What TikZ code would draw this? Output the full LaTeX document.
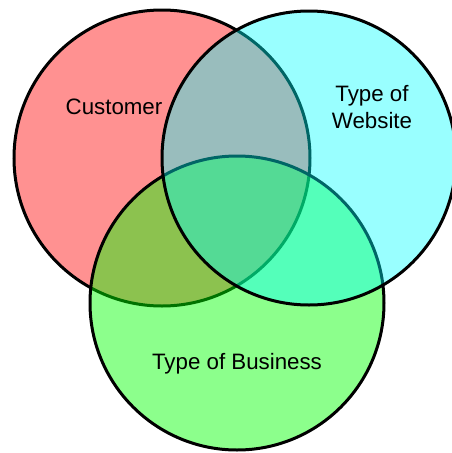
\documentclass[tikz,border=0pt]{standalone}
\usepackage{fontspec}
\setmainfont{Liberation Sans}
\definecolor{redfill}{RGB}{255,145,145}
\definecolor{greenfill}{RGB}{0,255,0}
\definecolor{cyanfill}{RGB}{0,255,255}
\begin{document}
\begin{tikzpicture}[x=1pt,y=-1pt]
\tikzset{
  ring/.style={draw=black,line width=3pt},
  lbl/.style={font=\fontsize{22.3}{26.6}\selectfont, align=center, inner sep=0pt}
}
\useasboundingbox (0,0) rectangle (452,453);
\clip (0,0) rectangle (452,453);
\fill[white] (0,0) rectangle (452,453);
\path[ring, fill=redfill] (162,158) circle[radius=148];
\path[ring, fill=greenfill, fill opacity=0.45] (237,303) circle[radius=147];
\path[ring, fill=cyanfill, fill opacity=0.4] (309,158) circle[radius=147];
\node[lbl] (customer) at (114,107) {Customer};
\node[lbl] (website) at (372,107) {Type of\\Website};
\node[lbl] (business) at (237,364) {Type of Business};
\end{tikzpicture}
\end{document}
